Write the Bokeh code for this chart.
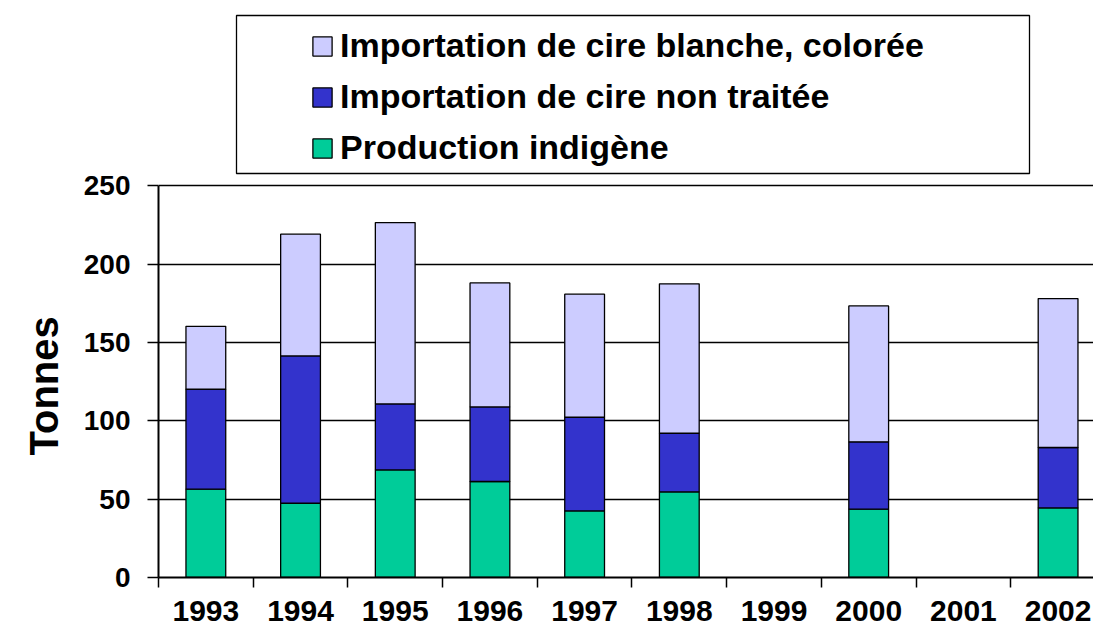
from bokeh.plotting import figure
from bokeh.models import (Range1d, FixedTicker, Legend, LegendItem, ColumnDataSource,
                          BoxAnnotation, Title)
from bokeh.embed import file_html
from bokeh.resources import INLINE

# ---- data ----
years = ["1993", "1994", "1995", "1996", "1997", "1998", "1999", "2000", "2001", "2002"]
production = [56.4, 47.4, 68.7, 61.3, 42.5, 54.7, None, 43.6, None, 44.4]
non_traitee = [63.8, 94.1, 42.1, 47.6, 59.8, 37.4, None, 43.0, None, 38.6]
blanche = [40.2, 77.7, 115.8, 79.2, 78.6, 95.4, None, 86.8, None, 95.1]
y_ticks = [0, 50, 100, 150, 200, 250]
series_names = ["Production indigène", "Importation de cire non traitée",
                "Importation de cire blanche, colorée"]
colors = ["#00CC99", "#3333CC", "#CCCCFF"]
y_title = "Tonnes"

FONT = "Liberation Sans"

rows = [i for i, v in enumerate(production) if v is not None]
src = ColumnDataSource(dict(
    x=[i + 0.5 for i in rows],
    prod=[production[i] for i in rows],
    nt=[non_traitee[i] for i in rows],
    bl=[blanche[i] for i in rows],
))

# frame spans the full height above the x axis so the legend (drawn inside it) is not clipped;
# the y axis itself is bounded to 0..250
p = figure(width=1093, height=634, x_range=Range1d(0, 9.874), y_range=Range1d(0, 368.4),
           output_backend="svg", toolbar_location=None,
           min_border_left=158, min_border_right=0, min_border_top=0, min_border_bottom=57)
p.outline_line_color = None
p.background_fill_color = "white"
p.border_fill_color = "white"

rs = p.vbar_stack(["prod", "nt", "bl"], x="x", width=0.42, color=colors,
                  line_color="black", line_width=1.3, source=src)

# x axis: labels at category centers, ticks at category boundaries
xa = p.xaxis[0]
xa.ticker = FixedTicker(ticks=[i + 0.5 for i in range(len(years))],
                        minor_ticks=list(range(len(years) + 1)))
xa.major_label_overrides = {i + 0.5: y for i, y in enumerate(years)}
xa.major_tick_line_color = None
xa.major_tick_out = 10
xa.major_tick_in = 0
xa.minor_tick_out = 10
xa.minor_tick_in = 0
xa.minor_tick_line_color = "black"
xa.minor_tick_line_width = 1.5
xa.axis_line_color = "black"
xa.axis_line_width = 2
xa.major_label_standoff = 13
xa.major_label_text_font = FONT
xa.major_label_text_font_style = "bold"
xa.major_label_text_font_size = "30px"
xa.major_label_text_color = "black"

ya = p.yaxis[0]
ya.bounds = (0, 250)
ya.ticker = FixedTicker(ticks=y_ticks, minor_ticks=[])
ya.major_tick_out = 11
ya.major_tick_in = 0
ya.major_tick_line_color = "black"
ya.major_tick_line_width = 1.5
ya.axis_line_color = "black"
ya.axis_line_width = 2
ya.major_label_standoff = 17
ya.major_label_text_font = FONT
ya.major_label_text_font_style = "bold"
ya.major_label_text_font_size = "28px"
ya.major_label_text_color = "black"

# y axis title, placed along the 0..250 part of the axis
p.add_layout(Title(text=y_title, align="left", offset=122, standoff=30,
                   text_font=FONT, text_font_style="bold", text_font_size="40px",
                   text_color="black"), "left")

p.xgrid.grid_line_color = None
p.ygrid.ticker = FixedTicker(ticks=y_ticks)
p.ygrid.grid_line_color = "black"
p.ygrid.grid_line_width = 1.3

# legend frame
p.add_layout(BoxAnnotation(left=78, right=871, bottom=404, top=562,
                           left_units="screen", right_units="screen",
                           bottom_units="screen", top_units="screen",
                           fill_color=None, line_color="black", line_width=1.3,
                           line_alpha=1.0))

items = [LegendItem(label=series_names[k], renderers=[rs[k]]) for k in (2, 1, 0)]
legend = Legend(items=items, location=(152, 410), orientation="vertical",
                padding=8, spacing=12, glyph_width=24, glyph_height=24,
                label_standoff=6, label_text_font=FONT, label_text_font_style="bold",
                label_text_font_size="34px", label_text_color="black",
                border_line_color=None, background_fill_alpha=0)
p.add_layout(legend)

open("out.html", "w").write(file_html(p, INLINE))
